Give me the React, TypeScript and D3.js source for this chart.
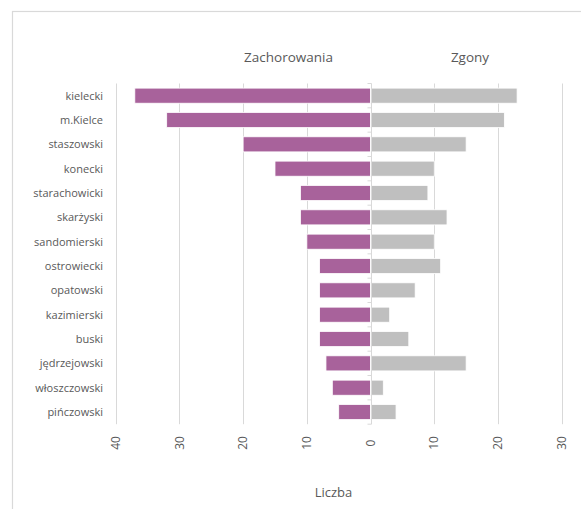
import React, { useEffect, useRef } from 'react';
import * as d3 from 'd3';

// Data
const districts = [
  'kielecki', 'm.Kielce', 'staszowski', 'konecki', 'starachowicki', 'skarżyski',
  'sandomierski', 'ostrowiecki', 'opatowski', 'kazimierski', 'buski',
  'jędrzejowski', 'włoszczowski', 'pińczowski',
];
const cases = [37, 32, 20, 15, 11, 11, 10, 8, 8, 8, 8, 7, 6, 5];
const deaths = [23, 21, 15, 10, 9, 12, 10, 11, 7, 3, 6, 15, 2, 4];
const xTicks = [-40, -30, -20, -10, 0, 10, 20, 30];
const seriesNames = ['Zachorowania', 'Zgony'];
const axisTitle = 'Liczba';

const App = () => {
  const container = useRef<SVGSVGElement | null>(null);

  useEffect(() => {
    const svgWidth = 581;
    const svgHeight = 509;
    const font = '"Open Sans", sans-serif';
    const textColor = '#595959';
    const gridColor = '#D9D9D9';

    const svg = d3.select(container.current);
    svg.selectAll('*').remove();

    // Chart border
    svg.append('rect')
      .attr('x', 12.5)
      .attr('y', 11.5)
      .attr('width', svgWidth)
      .attr('height', svgHeight)
      .attr('fill', 'white')
      .attr('stroke', gridColor)
      .attr('stroke-width', 1.2);

    const x = d3.scaleLinear()
      .domain([-40, 30])
      .range([115.7, 561.7]);

    const y = d3.scaleBand()
      .domain(districts)
      .range([83.5, 424.2])
      .paddingInner(0.38)
      .paddingOuter(0.19);

    const [top, bottom] = y.range();

    // Gridlines
    svg.append('g')
      .selectAll('line')
      .data(xTicks.filter(t => t !== 0))
      .enter()
        .append('line')
        .attr('x1', t => Math.round(x(t)) + 0.5)
        .attr('x2', t => Math.round(x(t)) + 0.5)
        .attr('y1', top)
        .attr('y2', bottom)
        .attr('stroke', gridColor)
        .attr('stroke-width', 1);

    // Bars: cases to the left, deaths to the right
    svg.append('g')
      .selectAll('rect')
      .data(districts)
      .enter()
        .append('rect')
        .attr('x', (d, i) => x(-cases[i]))
        .attr('y', d => y(d) as number)
        .attr('width', (d, i) => x(0) - x(-cases[i]))
        .attr('height', y.bandwidth())
        .attr('fill', '#A8629B')
        .attr('stroke', 'white')
        .attr('stroke-width', 0.8);

    svg.append('g')
      .selectAll('rect')
      .data(districts)
      .enter()
        .append('rect')
        .attr('x', x(0))
        .attr('y', d => y(d) as number)
        .attr('width', (d, i) => x(deaths[i]) - x(0))
        .attr('height', y.bandwidth())
        .attr('fill', '#BFBFBF')
        .attr('stroke', 'white')
        .attr('stroke-width', 0.8);

    // Zero axis with category ticks
    const x0 = Math.round(x(0)) + 0.5;
    svg.append('line')
      .attr('x1', x0).attr('x2', x0)
      .attr('y1', top).attr('y2', bottom)
      .attr('stroke', gridColor)
      .attr('stroke-width', 1);

    const step = y.step();
    svg.append('g')
      .selectAll('line')
      .data(d3.range(districts.length + 1))
      .enter()
        .append('line')
        .attr('x1', x0 - 4)
        .attr('x2', x0)
        .attr('y1', i => top + i * step)
        .attr('y2', i => top + i * step)
        .attr('stroke', gridColor)
        .attr('stroke-width', 1);

    // Category labels
    svg.append('g')
      .selectAll('text')
      .data(districts)
      .enter()
        .append('text')
        .text(d => d)
        .attr('x', 103)
        .attr('y', d => (y(d) as number) + y.bandwidth() / 2)
        .attr('dy', '0.35em')
        .attr('text-anchor', 'end')
        .attr('font-family', font)
        .attr('font-size', '11px')
        .attr('fill', textColor);

    // Value tick labels (rotated)
    svg.append('g')
      .selectAll('text')
      .data(xTicks)
      .enter()
        .append('text')
        .text(t => String(Math.abs(t)))
        .attr('transform', t => `translate(${x(t)}, 443) rotate(-90)`)
        .attr('dy', '0.35em')
        .attr('text-anchor', 'middle')
        .attr('font-family', font)
        .attr('font-size', '12px')
        .attr('fill', textColor);

    // Series headers
    svg.append('text')
      .text(seriesNames[0])
      .attr('x', 288.5)
      .attr('y', 57)
      .attr('dy', '0.35em')
      .attr('text-anchor', 'middle')
      .attr('font-family', font)
      .attr('font-size', '13.5px')
      .attr('fill', textColor);

    svg.append('text')
      .text(seriesNames[1])
      .attr('x', 470)
      .attr('y', 57)
      .attr('dy', '0.35em')
      .attr('text-anchor', 'middle')
      .attr('font-family', font)
      .attr('font-size', '13.5px')
      .attr('fill', textColor);

    // Axis title
    svg.append('text')
      .text(axisTitle)
      .attr('x', 333.5)
      .attr('y', 492)
      .attr('dy', '0.35em')
      .attr('text-anchor', 'middle')
      .attr('font-family', font)
      .attr('font-size', '13px')
      .attr('fill', textColor);
  }, []);

  return (
    <svg
      ref={container}
      width={581}
      height={509}
      style={{ position: 'absolute', left: 0, top: 0, background: 'white' }}
    />
  );
};

export default App;
